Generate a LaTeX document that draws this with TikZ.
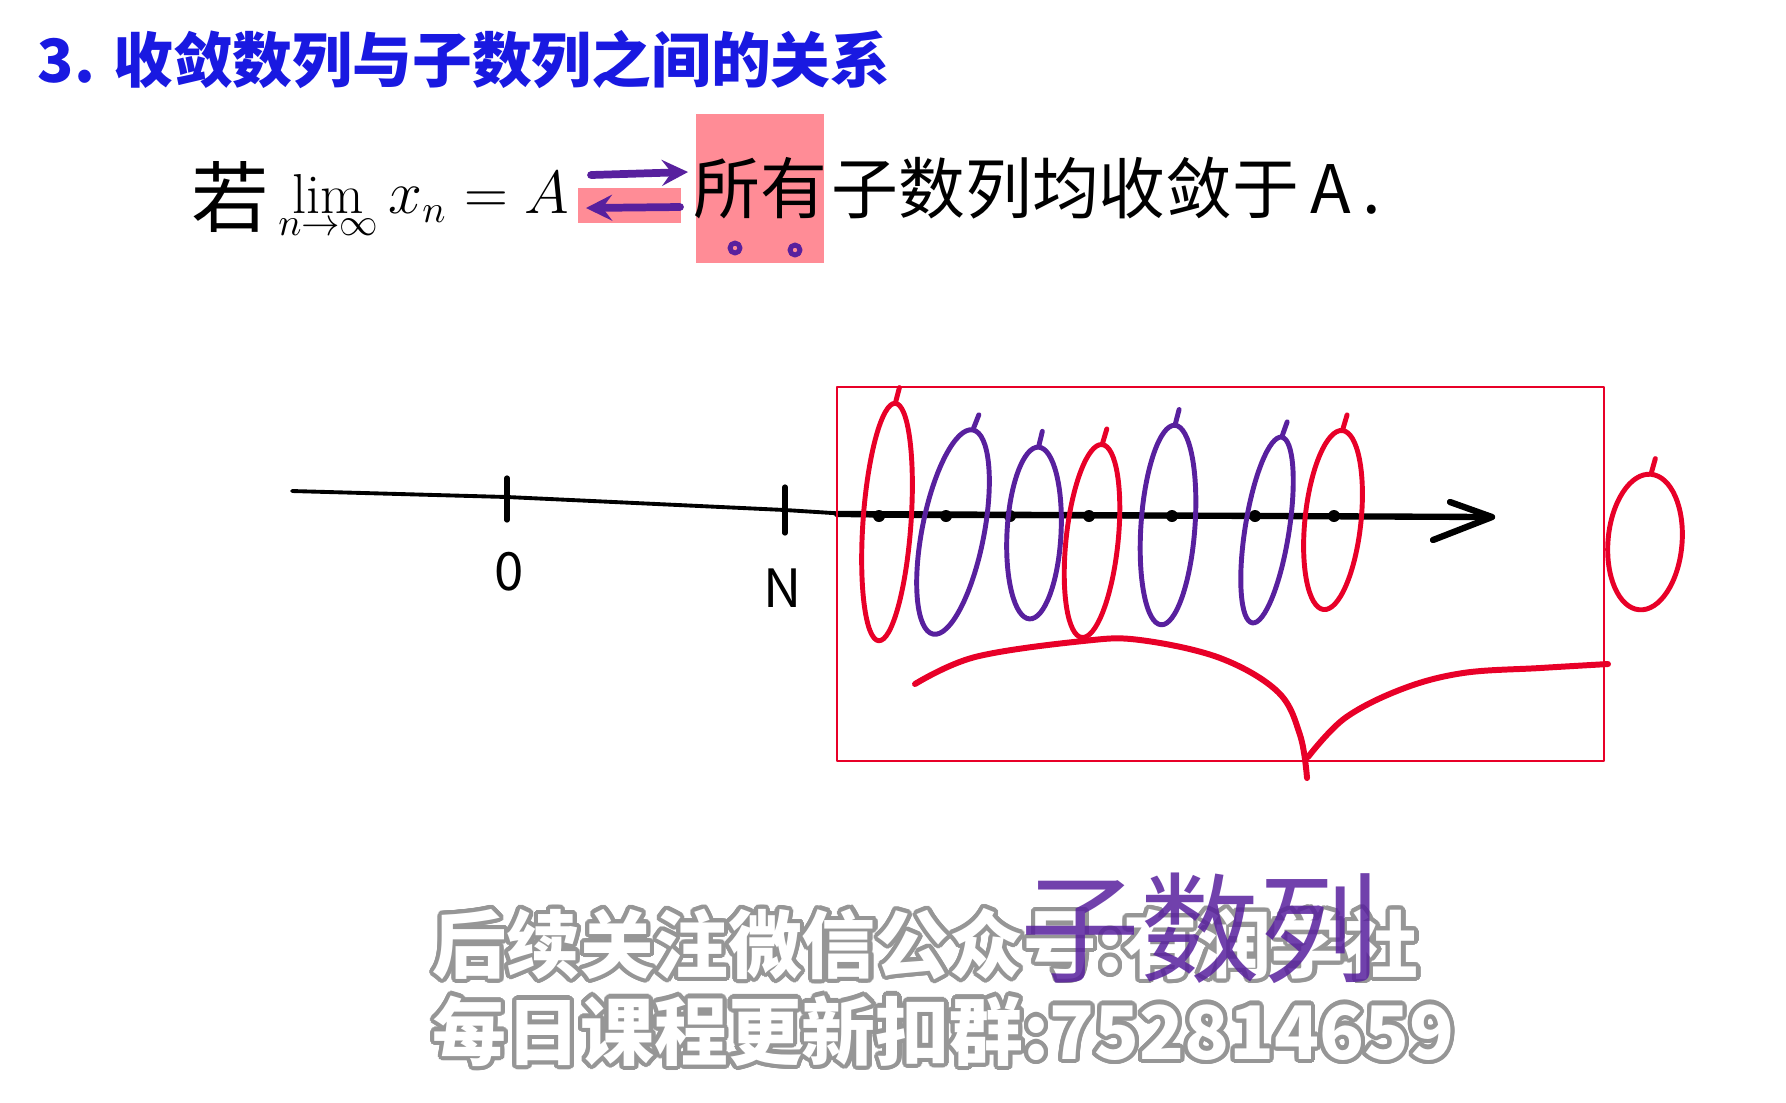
\documentclass[tikz,border=0pt]{standalone}
\usepackage{fontspec}
\usepackage{contour}
\newfontfamily\cjk{Noto Sans CJK SC}
\definecolor{titleblue}{RGB}{25,25,225}
\definecolor{penred}{RGB}{232,0,40}
\definecolor{penpurple}{RGB}{88,32,158}
\definecolor{hlpink}{RGB}{255,140,150}
\definecolor{wmgray}{RGB}{150,150,150}
\contourlength{1.2pt}
\contournumber{24}
\tikzset{
  hw/.style={font=\cjk\fontsize{19}{22}\selectfont, inner sep=0pt},
  oval/.style={line width=1.4pt},
  wm/.style={font=\cjk\bfseries\fontsize{21}{24}\selectfont, text=white, inner sep=0pt, anchor=west},
}
\begin{document}
\begin{tikzpicture}[x=0.01cm,y=-0.01cm,>=stealth,line join=round,line cap=round]
	\useasboundingbox (0,0) rectangle (1786,1102);
	
	\node[anchor=west, inner sep=0pt, text=titleblue, font=\cjk\bfseries\fontsize{17}{20}\selectfont] (title) at (37,60) {3. 收敛数列与子数列之间的关系};
	
	% 若 lim x_n = A <=> 所有子数列均收敛于A
	\fill[hlpink] (578,188) rectangle (681,223);
	\fill[hlpink] (696,114) rectangle (824,263);
	\node[hw, font=\cjk\fontsize{22}{24}\selectfont] (ruo) at (230,197) {若};
	\node[anchor=base east, inner sep=0pt, font=\fontsize{16}{18}\selectfont] (limit) at (570,213) {$\lim\limits_{n\to\infty} x_n = A$};
	\node[hw] (suoyou) at (760,188) {所有};
	\node[hw, anchor=west] (rest) at (831,188) {子数列均收敛于\,A\,.};
	\coordinate (iffa) at (591,175); \coordinate (iffb) at (688,172);
	\coordinate (iffc) at (680,207); \coordinate (iffd) at (586,208);
	\draw[penpurple, line width=2.2pt, ->] (iffa) -- (iffb);
	\draw[penpurple, line width=2.2pt, ->] (iffc) -- (iffd);
	\draw[penpurple, line width=1.4pt] (735,248) circle (5) (795,250) circle (5);
	
	% number line
	\draw[line width=1.1pt] (292,491) -- (507,497) -- (785,510) -- (880,516) -- (1490,517);
	\draw[line width=1.8pt] (837,514) -- (1490,517);
	\draw[line width=1.8pt] (1450,502) -- (1492,517) -- (1433,540);
	\draw[line width=1.5pt] (507,478) -- (507,520);
	\draw[line width=1.5pt] (785,487) -- (785,533);
	\node[font=\cjk\fontsize{15}{18}\selectfont] (zero) at (509,572) {0};
	\node[font=\cjk\fontsize{15}{18}\selectfont] (bigN) at (783,588) {N};
	\foreach \dx in {879,946,1010,1089,1172,1255,1334}
		\fill (\dx,516) circle (6);
	
	\foreach \cx/\cy/\rx/\ry/\ang/\col in {887/522/24/119/-4/penred, 953/532/31/104/-11/penpurple,
		1034/533/27/86/-3/penpurple, 1092/541/26/97/-6/penred, 1168/525/27/100/-4/penpurple,
		1267/530/22/94/-9/penpurple, 1333/520/28/90/-6/penred, 1645/542/37/68/-5/penred}
		\draw[oval, draw=\col, rotate around={\ang:(\cx,\cy)}] (\cx,\cy) ellipse [x radius=\rx, y radius=\ry]
			(\cx,\cy-\ry) -- ++(3,-16);
	
	\draw[penred, line width=0.6pt] (837,387) rectangle (1604,761);
	\draw[penred, line width=1.7pt] plot[smooth, tension=0.6] coordinates {(915,684) (975,657) (1083,641) (1140,640) (1220,658) (1278,692) (1300,735) (1307,778)};
	\draw[penred, line width=1.7pt] plot[smooth, tension=0.6] coordinates {(1308,757) (1345,718) (1402,689) (1463,673) (1540,668) (1608,664)};
	
	\node[wm] (wm1) at (432,946) {\contour{wmgray}{后续关注微信公众号:有润学社}};
	\node[wm] (wm2) at (432,1033) {\contour{wmgray}{每日课程更新扣群:752814659}};
	\node[font=\cjk\fontsize{34}{36}\selectfont, text=penpurple, text opacity=0.85] (zishulie) at (1200,928) {子数列};
\end{tikzpicture}
\end{document}
